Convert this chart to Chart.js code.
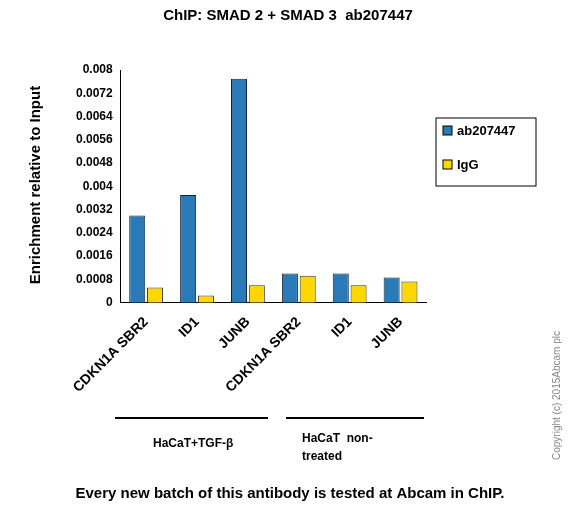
<!DOCTYPE html><html><head><script src="https://cdn.jsdelivr.net/npm/chart.js"></script>
<style>body{margin:0;background:#fff}#w{width:576px;height:507px;position:relative}</style></head><body><div id="w"><canvas id="c"></canvas></div>
<script>
const categories=["CDKN1A SBR2","ID1","JUNB","CDKN1A SBR2","ID1","JUNB"];
const abValues=[0.0030,0.0037,0.0077,0.0010,0.0010,0.00087];
const iggValues=[0.00052,0.00025,0.0006,0.00093,0.0006,0.00073];
const tickLabels=["0","0.0008","0.0016","0.0024","0.0032","0.004","0.0048","0.0056","0.0064","0.0072","0.008"];
const F='Arial, "Liberation Sans", sans-serif';
const extras={id:'extras',afterDraw(ch){
 const x=ch.ctx;x.save();x.fillStyle='#000';
 x.font='bold 15px '+F;x.textAlign='center';x.fillText('ChIP: SMAD 2 + SMAD 3  ab207447',288,20);
 x.fillText('Every new batch of this antibody is tested at Abcam in ChIP.',290,498);
 x.save();x.translate(40,185);x.rotate(-Math.PI/2);x.font='bold 15px '+F;x.fillText('Enrichment relative to Input',0,0);x.restore();
 x.lineWidth=2;x.strokeStyle='#000';
 x.beginPath();x.moveTo(115,418);x.lineTo(268,418);x.moveTo(286,418);x.lineTo(424,418);x.stroke();
 x.font='bold 12px '+F;x.textAlign='left';x.fillText('HaCaT+TGF-β',153,447);
 x.fillText('HaCaT  non-',302,442);x.fillText('treated',302,460);
 x.lineWidth=1;x.strokeRect(436,118,100,68);
 x.fillStyle='#2a7ab8';x.fillRect(443,126,9,9);x.strokeRect(443,126,9,9);
 x.fillStyle='#ffd700';x.fillRect(443,160,9,9);x.strokeRect(443,160,9,9);
 x.fillStyle='#000';x.font='bold 13px '+F;x.fillText('ab207447',457,135);x.fillText('IgG',457,169);
 x.save();x.translate(560,460);x.rotate(-Math.PI/2);x.font='10px '+F;x.fillStyle='#888';x.fillText('Copyright (c) 2015Abcam plc',0,0);x.restore();
 x.restore();}};
new Chart(document.getElementById('c'),{type:'bar',data:{labels:categories,datasets:[
 {label:'ab207447',data:abValues,backgroundColor:'#2a7ab8',borderColor:'#123',borderWidth:1,categoryPercentage:0.7,barPercentage:0.9},
 {label:'IgG',data:iggValues,backgroundColor:'#ffd700',borderColor:'#333',borderWidth:1,categoryPercentage:0.7,barPercentage:0.9}]},
 options:{responsive:true,maintainAspectRatio:false,animation:false,
 layout:{padding:{left:73,right:150,top:70,bottom:108}},
 plugins:{legend:{display:false},tooltip:{enabled:false}},
 scales:{y:{min:0,max:0.008,afterBuildTicks(s){s.ticks=tickLabels.map(v=>({value:parseFloat(v)}));},
  ticks:{callback:(v,i)=>tickLabels[i],color:'#000',font:{family:F,size:12,weight:'bold'}},grid:{display:false,drawTicks:true,tickLength:5},border:{color:'#000'}},
 x:{ticks:{color:'#000',maxRotation:45,minRotation:45,font:{family:F,size:14,weight:'bold'}},grid:{display:false},border:{color:'#000'}}}},
 plugins:[extras]});
</script></body></html>
